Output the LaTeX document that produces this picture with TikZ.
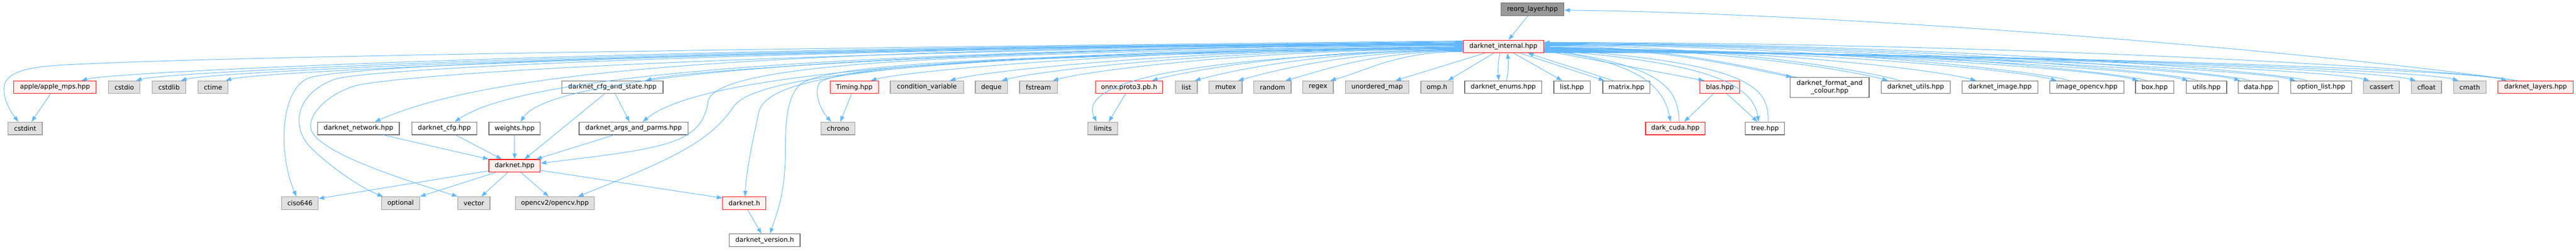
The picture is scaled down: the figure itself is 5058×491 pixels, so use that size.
\documentclass[tikz,border=0pt]{standalone}
\usepackage{fontspec}
\setmainfont{DejaVu Sans}
\usetikzlibrary{arrows.meta,calc}
\definecolor{eblue}{HTML}{63B8FF}
\definecolor{redfill}{HTML}{FFF0F0}
\definecolor{grayfill}{HTML}{E0E0E0}
\definecolor{grayline}{HTML}{999999}
\definecolor{darkline}{HTML}{666666}
\definecolor{reorgfill}{HTML}{999999}
\newcommand\fs{\fontsize{12.8}{15}\selectfont}
\tikzset{
 basenode/.style={rectangle, inner sep=0pt, minimum height=25pt, line width=1.2pt, font=\fs, align=center, text=black},
 rnode/.style={basenode, draw=red, fill=redfill},
 gnode/.style={basenode, draw=grayline, fill=grayfill},
 wnode/.style={basenode, draw=darkline, fill=white},
 knode/.style={basenode, draw=darkline, fill=reorgfill},
 conn/.style={draw=eblue, line width=1pt, -{Triangle[length=11pt,width=8pt]}}
}
% internal -> left row-2 targets
\newcommand\LE[3]{%
 \pgfmathsetmacro\lca{2873-0.5*(2873-#2)}%
 \pgfmathsetmacro\lcb{#2+min(75,0.4*(2873-#2))}%
 \pgfmathsetmacro\lsy{91.5+(#3)}%
 \draw[conn] ($(internal.west)+(0,#3)$) .. controls (\lca,\lsy) and (\lcb,138) .. (#1.north -| #2,0);}
% internal -> right row-2 targets
\newcommand\RE[3]{%
 \pgfmathsetmacro\lca{3031+0.5*(#2-3031)}%
 \pgfmathsetmacro\lcb{#2-min(75,0.4*(#2-3031))}%
 \pgfmathsetmacro\lsy{91.5+(#3)}%
 \draw[conn] ($(internal.east)+(0,#3)$) .. controls (\lca,\lsy) and (\lcb,138) .. (#1.north -| #2,0);}
% right row-2 targets -> internal
\newcommand\BE[3]{%
 \pgfmathsetmacro\lca{3031+0.5*(#2-3031)}%
 \pgfmathsetmacro\lcb{#2-min(60,0.4*(#2-3031))}%
 \pgfmathsetmacro\lsy{91.5+(#3)}%
 \draw[conn] (#1.north -| #2,0) .. controls (\lcb,140) and (\lca,\lsy) .. ($(internal.east)+(0,#3)$);}
\begin{document}
\begin{tikzpicture}[x=1pt,y=-1pt]
\useasboundingbox (0,0) rectangle (5058,491);
% row 0 and 1
\node[knode, minimum width=124pt] (reorg) at (3009,18) {reorg\_layer.hpp};
\node[rnode, minimum width=158pt] (internal) at (2952,91.5) {darknet\_internal.hpp};
% row 2
\node[rnode, minimum width=162pt] (apple) at (108,171.5) {apple/apple\_mps.hpp};
\node[gnode, minimum width=62pt] (cstdio) at (244,171.5) {cstdio};
\node[gnode, minimum width=66pt] (cstdlib) at (332,171.5) {cstdlib};
\node[gnode, minimum width=59pt] (ctime) at (418.5,171.5) {ctime};
\node[wnode, minimum width=199pt] (cfgstate) at (1202.5,171.5) {darknet\_cfg\_and\_state.hpp};
\node[rnode, minimum width=95pt] (timing) at (1677.5,171.5) {Timing.hpp};
\node[gnode, minimum width=144pt] (condvar) at (1820,171.5) {condition\_variable};
\node[gnode, minimum width=63pt] (deque) at (1946.5,171.5) {deque};
\node[gnode, minimum width=74pt] (fstream) at (2039,171.5) {fstream};
\node[rnode, minimum width=132pt] (onnx) at (2217,171.5) {onnx.proto3.pb.h};
\node[gnode, minimum width=43pt] (list) at (2329.5,171.5) {list};
\node[gnode, minimum width=65pt] (mutex) at (2406.5,171.5) {mutex};
\node[gnode, minimum width=73pt] (random) at (2498.5,171.5) {random};
\node[gnode, minimum width=60pt] (regex) at (2588,171.5) {regex};
\node[gnode, minimum width=124pt] (umap) at (2704,171.5) {unordered\_map};
\node[gnode, minimum width=63pt] (omp) at (2821.5,171.5) {omp.h};
\node[wnode, minimum width=151pt] (enums) at (2951.5,171.5) {darknet\_enums.hpp};
\node[wnode, minimum width=71pt] (listhpp) at (3086.5,171.5) {list.hpp};
\node[wnode, minimum width=93pt] (matrix) at (3193.5,171.5) {matrix.hpp};
\node[rnode, minimum width=78pt] (blas) at (3377,171.5) {blas.hpp};
\node[wnode, minimum width=155pt, minimum height=40pt] (fmt) at (3592.5,172) {darknet\_format\_and\\\_colour.hpp};
\node[wnode, minimum width=135pt] (dutils) at (3761.5,171.5) {darknet\_utils.hpp};
\node[wnode, minimum width=148pt] (dimage) at (3927,171.5) {darknet\_image.hpp};
\node[wnode, minimum width=145pt] (imgocv) at (4097.5,171.5) {image\_opencv.hpp};
\node[wnode, minimum width=75pt] (box) at (4230.5,171.5) {box.hpp};
\node[wnode, minimum width=79pt] (utils) at (4332.5,171.5) {utils.hpp};
\node[wnode, minimum width=79pt] (data) at (4434.5,171.5) {data.hpp};
\node[wnode, minimum width=119pt] (optlist) at (4557.5,171.5) {option\_list.hpp};
\node[gnode, minimum width=70pt] (cassert) at (4676,171.5) {cassert};
\node[gnode, minimum width=59pt] (cfloat) at (4764.5,171.5) {cfloat};
\node[gnode, minimum width=63pt] (cmath) at (4849.5,171.5) {cmath};
\node[rnode, minimum width=147pt] (layers) at (4978.5,171.5) {darknet\_layers.hpp};
% row 3
\node[gnode, minimum width=67pt] (cstdint) at (49.5,252.5) {cstdint};
\node[wnode, minimum width=160pt] (network) at (704,252.5) {darknet\_network.hpp};
\node[wnode, minimum width=127pt] (cfg) at (872.5,252.5) {darknet\_cfg.hpp};
\node[wnode, minimum width=101pt] (weights) at (1010.5,252.5) {weights.hpp};
\node[wnode, minimum width=214pt] (args) at (1244,252.5) {darknet\_args\_and\_parms.hpp};
\node[gnode, minimum width=67pt] (chrono) at (1645.5,252.5) {chrono};
\node[gnode, minimum width=59pt] (limits) at (2165.5,252.5) {limits};
\node[rnode, minimum width=117pt] (cuda) at (3289.5,252.5) {dark\_cuda.hpp};
\node[wnode, minimum width=77pt] (tree) at (3465.5,252.5) {tree.hpp};
% row 4
\node[rnode, minimum width=101pt] (darknethpp) at (1010.5,326) {darknet.hpp};
% row 5
\node[gnode, minimum width=72pt] (ciso) at (589,399.5) {ciso646};
\node[gnode, minimum width=75pt] (optional) at (786.5,399.5) {optional};
\node[gnode, minimum width=63pt] (vector) at (930.5,399.5) {vector};
\node[gnode, minimum width=155pt] (opencv) at (1089.5,399.5) {opencv2/opencv.hpp};
\node[rnode, minimum width=85pt] (darkneth) at (1461.5,399.5) {darknet.h};
% row 6
\node[wnode, minimum width=139pt] (version) at (1501.5,472.5) {darknet\_version.h};

% ---- edges: top
\draw[conn] (reorg.south -| 3000,0) -- (internal.north -| 2962,0);
\draw[conn] (layers.north -| 4943,0) .. controls (4500,95) and (3600,26) .. ($(reorg.east)+(0,2)$);

% ---- internal -> left row 2
\LE{apple}{160}{-6}
\LE{cstdio}{267}{-5}
\LE{cstdlib}{355}{-4}
\LE{ctime}{443}{-3}
\LE{cfgstate}{1268}{-2}
\LE{timing}{1710}{2}
\LE{condvar}{1865}{3}
\LE{deque}{1967}{4}
\LE{fstream}{2067}{5}
\LE{onnx}{2262}{6}
\LE{list}{2346}{7}
\LE{mutex}{2431}{8}
\LE{random}{2524}{9}
\LE{regex}{2612}{10}
\draw[conn] (internal.south -| 2915,0) -- (umap.north -| 2740,0);
\draw[conn] (internal.south -| 2933,0) -- (omp.north -| 2843,0);

% ---- internal -> deeper left targets
\draw[conn] ($(internal.west)+(0,-11)$) .. controls (1400,96) and (400,112) .. (120,128) .. controls (30,133) and (5,150) .. (8,180) .. controls (10,205) and (25,225) .. (cstdint.north -| 36,0);
\draw[conn] ($(internal.west)+(0,-10)$) .. controls (1300,100) and (700,130) .. (610,152) .. controls (550,170) and (545,300) .. (ciso.north -| 582,0);
\draw[conn] ($(internal.west)+(0,-9)$) .. controls (1300,102) and (720,138) .. (660,155) .. controls (580,182) and (570,250) .. (610,290) .. controls (650,330) and (710,370) .. (optional.north -| 752,0);
\draw[conn] ($(internal.west)+(0,-8)$) .. controls (1600,98) and (1000,125) .. (network.north -| 736,0);
\draw[conn] ($(internal.west)+(0,-7)$) .. controls (1300,105) and (780,150) .. (700,168) .. controls (640,185) and (600,230) .. (612,258) .. controls (635,305) and (800,355) .. (vector.north west);
\draw[conn] ($(internal.west)+(0,-6)$) .. controls (1700,100) and (1040,140) .. (cfg.north -| 893,0);
\draw[conn] ($(internal.west)+(0,-5)$) .. controls (1700,100) and (1085,145) .. (weights.north -| 1022,0);
\draw[conn] ($(internal.west)+(0,-4)$) .. controls (2000,105) and (1390,135) .. (args.north -| 1262,0);
\draw[conn] ($(internal.west)+(0,-3)$) .. controls (1900,105) and (1405,120) .. (1390,200) .. controls (1378,285) and (1300,292) .. ($(darknethpp.east)+(0,-5)$);
\draw[conn] ($(internal.west)+(0,-1)$) .. controls (1800,108) and (1480,150) .. (1440,210) .. controls (1390,285) and (1300,320) .. (opencv.north -| 1135,0);
\draw[conn] ($(internal.west)+(0,0)$) .. controls (1800,110) and (1510,140) .. (1490,220) .. controls (1475,290) and (1465,340) .. (darkneth.north -| 1463,0);
\draw[conn] ($(internal.west)+(0,1)$) .. controls (1900,110) and (1640,128) .. (1575,163) .. controls (1545,185) and (1542,240) .. (1542,300) .. controls (1542,380) and (1525,420) .. (version.north -| 1512,0);
\draw[conn] ($(internal.west)+(0,3)$) .. controls (1900,112) and (1680,130) .. (1612,160) .. controls (1595,175) and (1610,215) .. (chrono.north -| 1632,0);
\draw[conn] ($(internal.west)+(0,6)$) .. controls (2400,110) and (2110,150) .. (limits.north -| 2153,0);

% ---- secondary left edges
\draw[conn] (apple.south -| 99,0) -- (cstdint.north -| 62,0);
\draw[conn] (timing.south -| 1672,0) -- (chrono.north -| 1650,0);
\draw[conn] (onnx.south -| 2210,0) -- (limits.north -| 2177,0);
\draw[conn] (cfgstate.south -| 1187,0) -- (darknethpp.north -| 1030,0);
\draw[conn] (cfgstate.south -| 1208,0) -- (args.north -| 1236,0);
\draw[conn] (network.south -| 753,0) -- (darknethpp.north west);
\draw[conn] (cfg.south -| 895,0) -- (darknethpp.north -| 985,0);
\draw[conn] (weights.south) -- (darknethpp.north);
\draw[conn] (args.south -| 1205,0) -- (darknethpp.north -| 1053,0);
\draw[conn] ($(darknethpp.west)+(0,10)$) -- ($(ciso.east)+(0,-9)$);
\draw[conn] (darknethpp.south -| 973,0) -- (optional.north east);
\draw[conn] (darknethpp.south -| 997,0) -- (vector.north -| 945,0);
\draw[conn] (darknethpp.south -| 1023,0) -- (opencv.north -| 1077,0);
\draw[conn] ($(darknethpp.east)+(0,9)$) -- ($(darkneth.north west)+(0,3)$);
\draw[conn] (darkneth.south -| 1468,0) -- (version.north -| 1495,0);

% ---- right side near internal
\draw[conn] (internal.south -| 2945,0) .. controls (2941,125) and (2941,140) .. (enums.north -| 2943,0);
\draw[conn] (enums.north -| 2958,0) .. controls (2962,140) and (2962,125) .. (internal.south -| 2960,0);
\draw[conn] (internal.south -| 2972,0) -- (listhpp.north -| 3067,0);
\draw[conn] (internal.south -| 2985,0) -- (matrix.north -| 3150,0);
\draw[conn] (matrix.north -| 3167,0) -- (internal.south -| 3000,0);
\draw[conn] ($(internal.east)+(0,8)$) -- (blas.north -| 3346,0);
\draw[conn] ($(internal.east)+(0,7)$) .. controls (3200,120) and (3265,160) .. (cuda.north -| 3280,0);
\draw[conn] (cuda.north -| 3297,0) .. controls (3295,170) and (3260,130) .. ($(internal.east)+(0,5)$);
\draw[conn] ($(internal.east)+(0,6)$) .. controls (3300,120) and (3440,150) .. (tree.north -| 3453,0);
\draw[conn] (tree.north -| 3472,0) .. controls (3472,170) and (3440,125) .. ($(internal.east)+(0,4)$);
\draw[conn] (blas.south -| 3364,0) -- (cuda.north -| 3307,0);
\draw[conn] (blas.south -| 3391,0) -- (tree.north -| 3451,0);

% ---- internal -> right row 2
\RE{fmt}{3518}{1}
\RE{dutils}{3707}{2}
\RE{dimage}{3880}{3}
\RE{imgocv}{4038}{4}
\RE{box}{4198}{5}
\RE{utils}{4296}{6}
\RE{data}{4398}{7}
\RE{optlist}{4507}{8}
\RE{cassert}{4652}{9}
\RE{cfloat}{4743}{10}
\RE{cmath}{4827}{11}
\RE{layers}{4922}{12}

% ---- right row 2 -> internal
\BE{fmt}{3526}{-1}
\BE{dutils}{3730}{-2}
\BE{imgocv}{4063}{-3}
\BE{box}{4215}{-4}
\BE{utils}{4316}{-5}
\BE{data}{4418}{-6}
\BE{optlist}{4530}{-7}
\BE{layers}{4936}{-8}
\end{tikzpicture}
\end{document}
